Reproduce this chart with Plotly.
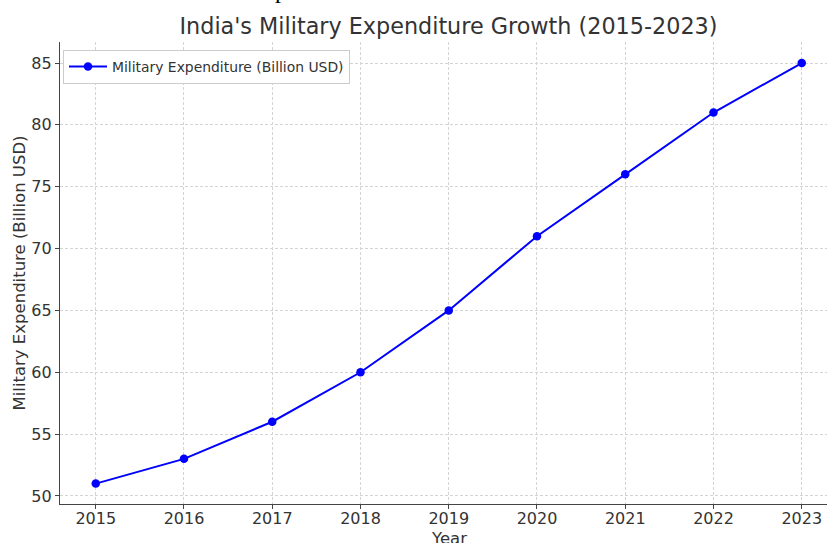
import plotly.graph_objects as go

# India's military expenditure, 2015-2023 (billion USD)
years = [2015, 2016, 2017, 2018, 2019, 2020, 2021, 2022, 2023]
spending = [51, 53, 56, 60, 65, 71, 76, 81, 85]
y_ticks = [50, 55, 60, 65, 70, 75, 80, 85]

series_name = "Military Expenditure (Billion USD)"
title_text = "India's Military Expenditure Growth (2015-2023)"

W, H = 827, 543
L, R, T, B = 60, 0, 42, 39
plot_w = W - L - R
plot_h = H - T - B

FONT = "DejaVu Sans"
TXT = "#333333"
GRID = "#d4d4d4"

fig = go.Figure()
fig.add_trace(go.Scatter(
    x=years, y=spending, mode="lines+markers", name=series_name,
    line=dict(color="#0000ff", width=2),
    marker=dict(color="#0000ff", size=8.5),
))

def px_x(p):
    return (p - L) / plot_w

def px_y(p):
    return (H - B - p) / plot_h

fig.update_layout(
    width=W, height=H,
    margin=dict(l=L, r=R, t=T, b=B, pad=0),
    paper_bgcolor="white", plot_bgcolor="white",
    font=dict(family=FONT, color=TXT, size=16),
    showlegend=True,
    legend=dict(
        x=px_x(63), y=px_y(50), xanchor="left", yanchor="top",
        bgcolor="white", bordercolor="#cccccc", borderwidth=1,
        itemwidth=38,
        font=dict(family=FONT, size=13.9, color=TXT),
    ),
    title=dict(
        text=title_text, xref="container", yref="container",
        x=448.5 / W, xanchor="center", y=1 - 26 / H, yanchor="middle",
        font=dict(family=FONT, size=22.3, color=TXT),
    ),
    xaxis=dict(
        range=[2014.595, 2014.595 + plot_w / 88.25],
        tickmode="array", tickvals=years, ticktext=[str(y) for y in years],
        showgrid=True, gridcolor=GRID, griddash="3px,2px", gridwidth=1,
        showline=True, linecolor="#444444", linewidth=1.3,
        ticks="outside", ticklen=4, tickwidth=1.2, tickcolor="#444444",
        ticklabelstandoff=-4,
        tickfont=dict(family=FONT, size=16, color=TXT),
        zeroline=False, mirror=False,
    ),
    yaxis=dict(
        range=[49.35, 86.7],
        tickmode="array", tickvals=y_ticks, ticktext=[str(v) for v in y_ticks],
        showgrid=True, gridcolor=GRID, griddash="3px,2px", gridwidth=1,
        showline=True, linecolor="#444444", linewidth=1.3,
        ticks="outside", ticklen=4, tickwidth=1.2, tickcolor="#444444",
        tickfont=dict(family=FONT, size=16, color=TXT),
        zeroline=False, mirror=False,
    ),
    annotations=[
        dict(text="Year", xref="paper", yref="paper",
             x=px_x(448.5), y=px_y(538), xanchor="center", yanchor="middle",
             showarrow=False, font=dict(family=FONT, size=16.5, color=TXT)),
        dict(text=series_name, xref="paper", yref="paper", textangle=-90,
             x=px_x(18.5), y=0.5, xanchor="center", yanchor="middle",
             showarrow=False, font=dict(family=FONT, size=16.5, color=TXT)),
        dict(text="p", xref="paper", yref="paper",
             x=px_x(281), y=px_y(5), xanchor="center", yanchor="bottom",
             showarrow=False,
             font=dict(family="Liberation Serif", size=24, color="black")),
    ],
)

fig.write_html("out.html")
